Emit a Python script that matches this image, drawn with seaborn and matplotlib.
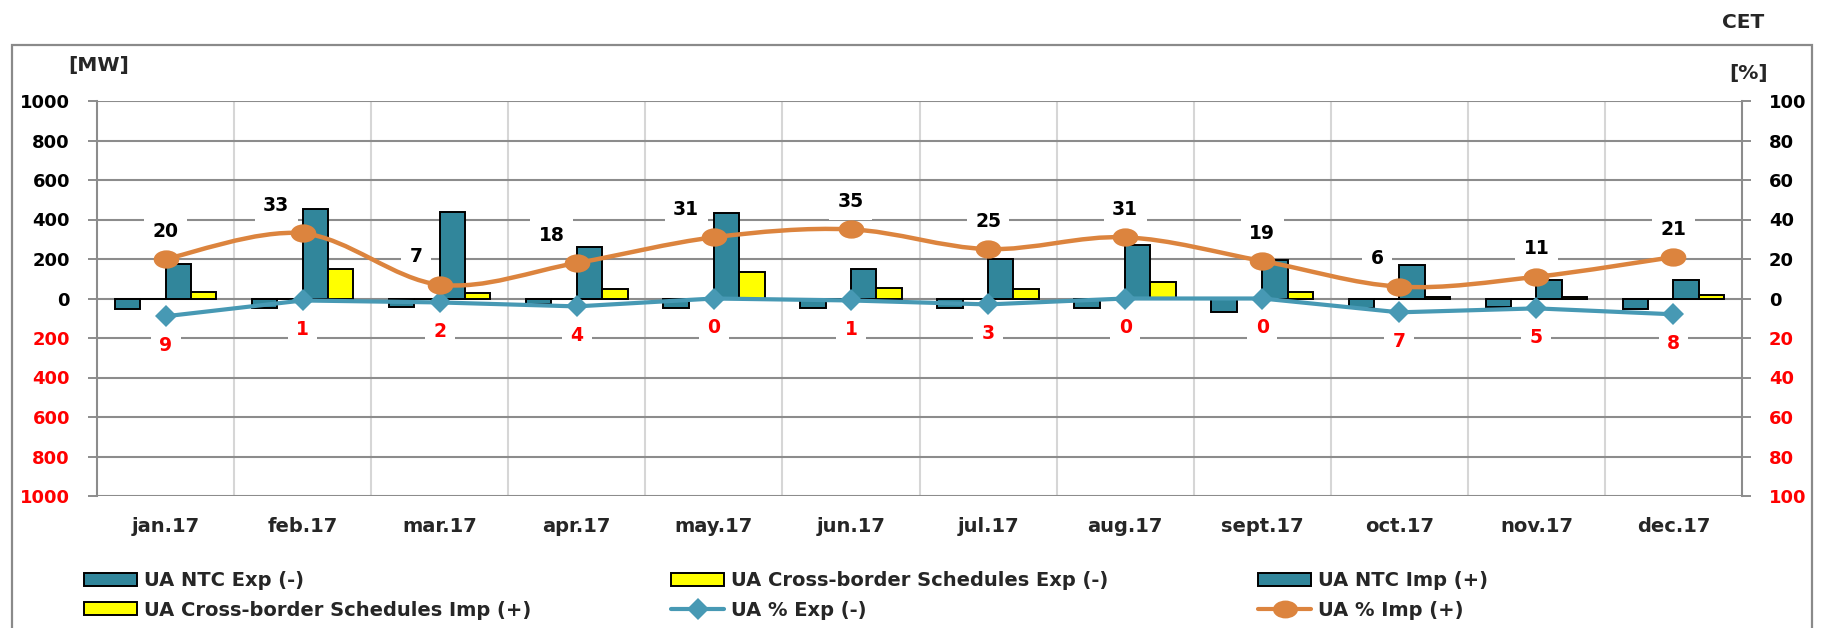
import numpy as np
import pandas as pd
import matplotlib
matplotlib.use("Agg")
import matplotlib.pyplot as plt
import seaborn as sns
from matplotlib.path import Path
from matplotlib.patches import PathPatch, Rectangle, Patch
from matplotlib.lines import Line2D
from matplotlib.transforms import Affine2D

# ---- data -------------------------------------------------------------
months = ["jan.17", "feb.17", "mar.17", "apr.17", "may.17", "jun.17",
          "jul.17", "aug.17", "sept.17", "oct.17", "nov.17", "dec.17"]
ntc_exp = [-52, -50, -45, -27, -50, -50, -50, -50, -70, -47, -42, -52]
sched_exp = [0, 0, 0, 0, 0, 0, 0, 0, 0, 0, 0, 0]
ntc_imp = [173, 451, 439, 263, 431, 148, 199, 273, 194, 172, 94, 92]
sched_imp = [33, 148, 30, 47, 133, 52, 49, 84, 35, 10, 9, 20]
pct_exp = [9, 1, 2, 4, 0, 1, 3, 0, 0, 7, 5, 8]
pct_imp = [20, 33, 7, 18, 31, 35, 25, 31, 19, 6, 11, 21]

series_names = ["UA NTC Exp (-)", "UA Cross-border Schedules Exp (-)",
                "UA NTC Imp (+)", "UA Cross-border Schedules Imp (+)"]
mw_ticks = [1000, 800, 600, 400, 200, 0, -200, -400, -600, -800, -1000]
pct_ticks = [100, 80, 60, 40, 20, 0, -20, -40, -60, -80, -100]

# import-share labels that sit beside a tall bar are nudged left (points)
imp_label_shift = [0, -19, -17, -18, -20, 0, 0, 0, 0, -16, 0, 0]

TEAL = "#31869B"
YELLOW = "#FFFF00"
ORANGE = "#DC843E"
EXP_LINE = "#4799B4"
RED = "#FF0000"
GRID = "#8C8C8C"
VGRID = "#D6D6D6"

sns.set_style("white")
plt.rcParams["font.family"] = ["DejaVu Sans"]
plt.rcParams["font.weight"] = "bold"

W, H = 1826, 628
fig = plt.figure(figsize=(W / 100, H / 100), dpi=100)
fig.patch.set_facecolor("white")

x0, x1, ytop, ybot = 97, 1742, 101, 496
ax = fig.add_axes([x0 / W, 1 - ybot / H, (x1 - x0) / W, (ybot - ytop) / H])

# ---- bars ---------------------------------------------------------------
df = pd.DataFrame({
    "month": months * 4,
    "series": np.repeat(series_names, len(months)),
    "MW": ntc_exp + sched_exp + ntc_imp + sched_imp,
})
sns.barplot(data=df, x="month", y="MW", hue="series", order=months,
            hue_order=series_names,
            palette=[TEAL, YELLOW, TEAL, YELLOW], saturation=1,
            width=0.74, edgecolor="black", linewidth=1.4,
            legend=False, ax=ax, zorder=3)

ax.set_xlim(-0.5, len(months) - 0.5)
ax.set_ylim(-1000, 1000)
ax.set_xlabel("")
ax.set_ylabel("")
ax.set_axisbelow(True)

ax.set_yticks(mw_ticks)
ax.set_yticklabels([str(abs(t)) for t in mw_ticks])
for t, lab in zip(mw_ticks, ax.get_yticklabels()):
    lab.set_color(RED if t < 0 else "black")
ax.tick_params(axis="y", direction="out", length=6.5, width=1.4,
               color=GRID, pad=13, labelsize=13)
ax.tick_params(axis="x", length=0, pad=15, labelsize=14)
for lab in ax.get_xticklabels() + ax.get_yticklabels():
    lab.set_fontweight("bold")

ax.grid(axis="y", color=GRID, linewidth=1.5)
ax.set_xticks(np.arange(0.5, len(months) - 0.5, 1), minor=True)
ax.grid(axis="x", which="minor", color=VGRID, linewidth=1.5)
ax.grid(axis="x", which="major", visible=False)
ax.tick_params(axis="x", which="minor", length=0)

for side in ["top", "bottom", "right"]:
    ax.spines[side].set_visible(False)
ax.spines["left"].set_color(GRID)
ax.spines["left"].set_linewidth(1.5)

# ---- percentage lines on the secondary axis ---------------------------
ax2 = ax.twinx()
ax2.set_ylim(-100, 100)
ax2.set_yticks(pct_ticks)
ax2.set_yticklabels([str(abs(t)) for t in pct_ticks])
for t, lab in zip(pct_ticks, ax2.get_yticklabels()):
    lab.set_color(RED if t < 0 else "black")
    lab.set_fontweight("bold")
ax2.tick_params(axis="y", direction="out", length=6.5, width=1.4,
                color=GRID, pad=13, labelsize=13)
for side in ["top", "bottom", "left"]:
    ax2.spines[side].set_visible(False)
ax2.spines["right"].set_color(GRID)
ax2.spines["right"].set_linewidth(1.5)

xs = np.arange(len(months))
exp_neg = [-v for v in pct_exp]

# value labels (white boxes break the gridlines, lines stay on top)
box = dict(boxstyle="square,pad=0.45", facecolor="white", edgecolor="none")
for x, v, dx in zip(xs, pct_imp, imp_label_shift):
    ax2.annotate(str(v), (x, v), xytext=(dx, 20), textcoords="offset points",
                 ha="center", va="center", fontsize=13.5, fontweight="bold",
                 color="black", bbox=box, zorder=4)
for x, v in zip(xs, pct_exp):
    ax2.annotate(str(v), (x, -v), xytext=(0, -21), textcoords="offset points",
                 ha="center", va="center", fontsize=13.5, fontweight="bold",
                 color=RED, bbox=box, zorder=4)

# export share: straight segments with diamond markers
sns.lineplot(x=xs, y=exp_neg, ax=ax2, color=EXP_LINE, linewidth=3,
             marker="D", markersize=11, markeredgewidth=0, zorder=5)

# import share: smoothed Bezier curve through the monthly points
pts = np.column_stack([xs, pct_imp]).astype(float)
ext = np.vstack([pts[0], pts, pts[-1]])
verts = [tuple(pts[0])]
codes = [Path.MOVETO]
for i in range(len(pts) - 1):
    p_prev, p0, p1, p_next = ext[i], ext[i + 1], ext[i + 2], ext[i + 3]
    c1 = p0 + (p1 - p_prev) / 6.0
    c2 = p1 - (p_next - p0) / 6.0
    verts += [tuple(c1), tuple(c2), tuple(p1)]
    codes += [Path.CURVE4] * 3
ax2.add_patch(PathPatch(Path(verts, codes), fill=False, edgecolor=ORANGE,
                        linewidth=3.2, zorder=6, capstyle="round"))

# slightly wide oval marker
oval = Path.unit_circle().transformed(Affine2D().scale(1.4, 1.0))
sns.scatterplot(x=xs, y=pct_imp, ax=ax2, color=ORANGE, s=340,
                marker=oval, linewidth=0, zorder=7)
ax2.set_xlim(-0.5, len(months) - 0.5)
ax2.set_xlabel("")
ax2.set_ylabel("")

# ---- axis titles and frame -----------------------------------------------
fig.text(99 / W, 1 - 65 / H, "[MW]", ha="center", va="center",
         fontsize=14.5, fontweight="bold")
fig.text(1749 / W, 1 - 73 / H, "[%]", ha="center", va="center",
         fontsize=14.5, fontweight="bold")
fig.text(1743 / W, 1 - 22 / H, "CET", ha="center", va="center",
         fontsize=14.5, fontweight="bold")

fig.add_artist(Rectangle((12 / W, -0.2), (1812 - 12) / W, 1 - 45 / H + 0.2,
                         transform=fig.transFigure, fill=False,
                         edgecolor="#8A8A8A", linewidth=1.6))

# ---- legend, three columns of two rows ----------------------------------
h_ntc_exp = Patch(facecolor=TEAL, edgecolor="black", linewidth=1.4)
h_sch_exp = Patch(facecolor=YELLOW, edgecolor="black", linewidth=1.4)
h_ntc_imp = Patch(facecolor=TEAL, edgecolor="black", linewidth=1.4)
h_sch_imp = Patch(facecolor=YELLOW, edgecolor="black", linewidth=1.4)
h_pct_exp = Line2D([], [], color=EXP_LINE, linewidth=3, marker="D",
                   markersize=11, markeredgewidth=0)
h_pct_imp = Line2D([], [], color=ORANGE, linewidth=3, marker=oval,
                   markersize=18, markeredgewidth=0)

columns = [
    (84, [h_ntc_exp, h_sch_imp], [series_names[0], series_names[3]]),
    (671, [h_sch_exp, h_pct_exp], [series_names[1], "UA % Exp (-)"]),
    (1258, [h_ntc_imp, h_pct_imp], [series_names[2], "UA % Imp (+)"]),
]
for xpos, hs, ls in columns:
    fig.legend(hs, ls, loc="upper left", bbox_to_anchor=(xpos / W, 1 - 571 / H),
               frameon=False, borderpad=0, borderaxespad=0,
               handlelength=2.75, handleheight=0.65, handletextpad=0.35,
               labelspacing=0.55, prop={"size": 14, "weight": "bold"})

fig.savefig("out.png", dpi=100, facecolor="white")
